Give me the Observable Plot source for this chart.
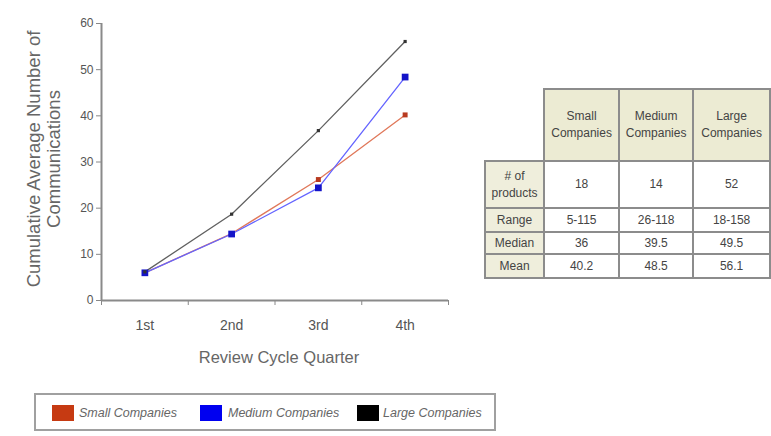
<!DOCTYPE html>
<html>
<head>
<meta charset="utf-8">
<script src="https://cdn.jsdelivr.net/npm/d3@7"></script>
<script src="https://cdn.jsdelivr.net/npm/@observablehq/plot@0.6"></script>
<style>
  html, body { margin: 0; padding: 0; background: #fff; }
  body { width: 771px; height: 436px; position: relative; overflow: hidden; font-family: "Liberation Sans", Arial, sans-serif; }
  #chart { position: absolute; left: 0; top: 0; }
  #tbl { position: absolute; left: 484px; top: 88px; border-collapse: collapse; font-size: 12px; color: #444; }
  #tbl td { border: 2px solid #8c8c8c; text-align: center; padding: 0; line-height: 1.4; }
  #tbl td.blank { border: none; border-right: 2px solid #8c8c8c; border-bottom: 2px solid #8c8c8c; background: #fff; }
  #tbl td.head { background: #ecebd3; }
  #tbl td.rowh { background: #efeedc; }
  #tbl td.val { background: #fff; }
  #legend { position: absolute; left: 34px; top: 393px; width: 462px; height: 38px; border: 2px solid #a0a0a0; box-sizing: border-box; }
  .sw { position: absolute; top: 10px; width: 22px; height: 16px; }
  .lt { position: absolute; top: 10px; font-style: italic; font-size: 12.5px; color: #666; line-height: 16px; white-space: nowrap; }
</style>
</head>
<body>
<div id="chart"></div>
<table id="tbl"></table>
<div id="legend"></div>
<script>
// ---- data ----
const quarters = ["1st", "2nd", "3rd", "4th"];
const seriesNames = ["Small Companies", "Medium Companies", "Large Companies"];
const smallValues = [6.0, 14.5, 26.2, 40.2];
const mediumValues = [6.0, 14.4, 24.4, 48.4];
const largeValues = [6.2, 18.7, 36.8, 56.1];
const yTicks = [0, 10, 20, 30, 40, 50, 60];

const tableColumns = ["Small\nCompanies", "Medium\nCompanies", "Large\nCompanies"];
const tableRowLabels = ["# of\nproducts", "Range", "Median", "Mean"];
const productsRow = ["18", "14", "52"];
const rangeRow = ["5-115", "26-118", "18-158"];
const medianRow = ["36", "39.5", "49.5"];
const meanRow = ["40.2", "48.5", "56.1"];

const colors = { line: ["#e0785a", "#6464ff", "#606060"], dot: ["#b83a20", "#1414c8", "#333"], swatch: ["#c63a12", "#0000f0", "#000"] };

const valuesBySeries = [smallValues, mediumValues, largeValues];
const rows = [];
valuesBySeries.forEach((vals, s) => vals.forEach((v, i) => rows.push({ series: seriesNames[s], s, q: i + 1, v })));

const bounds = [0.5, 1.5, 2.5, 3.5, 4.5];

const plot = Plot.plot({
  width: 771,
  height: 390,
  marginLeft: 101,
  marginRight: 323,
  marginTop: 23,
  marginBottom: 90,
  style: { fontFamily: "'Liberation Sans', Arial, sans-serif", background: "transparent" },
  x: { type: "linear", domain: [0.5, 4.5] },
  y: { domain: [0, 60] },
  marks: [
    Plot.axisY({ ticks: yTicks, tickSize: 5, tickPadding: 3, fontSize: 12, stroke: "#888", fill: "#555", label: null }),
    Plot.axisX({ ticks: bounds, tickSize: 5, tickFormat: () => "", stroke: "#888", label: null }),
    Plot.axisX({ ticks: [1, 2, 3, 4], tickSize: 0, tickPadding: 20, fontSize: 14, fill: "#555", tickFormat: d => quarters[d - 1], label: null }),
    Plot.ruleY([0], { stroke: "#8a8a8a", strokeWidth: 2 }),
    Plot.ruleX([0.5], { stroke: "#8a8a8a", strokeWidth: 2 }),
    Plot.text(["Review Cycle Quarter"], { frameAnchor: "bottom", dy: 57, dx: 4, fontSize: 16.5, fill: "#666", lineAnchor: "middle" }),
    Plot.text(["Cumulative Average Number of\nCommunications"], { frameAnchor: "left", textAnchor: "middle", rotate: -90, dx: -58, dy: -3, fontSize: 18.5, lineHeight: 1.1, fill: "#666", lineAnchor: "middle" }),
    ...[0, 1, 2].map(s => Plot.line(rows.filter(d => d.s === s), { x: "q", y: "v", stroke: colors.line[s], strokeWidth: 1.3 })),
    Plot.dot(rows.filter(d => d.s === 0), { x: "q", y: "v", symbol: "square", r: 2.8, fill: colors.dot[0] }),
    Plot.dot(rows.filter(d => d.s === 1), { x: "q", y: "v", symbol: "square", r: 3.8, fill: colors.dot[1] }),
    Plot.dot(rows.filter(d => d.s === 2), { x: "q", y: "v", symbol: "square", r: 1.8, fill: colors.dot[2] })
  ]
});
document.getElementById("chart").appendChild(plot);

// ---- table ----
const tbl = document.getElementById("tbl");
const colW = [59, 74, 73, 76];
const rowH = [72, 47, 24, 22, 24];
const br = s => s.replace(/\n/g, "<br>");
let html = `<tr style="height:${rowH[0]}px"><td class="blank" style="width:${colW[0]}px"></td>` +
  tableColumns.map((c, i) => `<td class="head" style="width:${colW[i + 1]}px">${br(c)}</td>`).join("") + "</tr>";
[productsRow, rangeRow, medianRow, meanRow].forEach((r, k) => {
  html += `<tr style="height:${rowH[k + 1]}px"><td class="rowh">${br(tableRowLabels[k])}</td>` +
    r.map(v => `<td class="val">${v}</td>`).join("") + "</tr>";
});
tbl.innerHTML = html;

// ---- legend ----
const legend = document.getElementById("legend");
const swX = [16, 164, 321];
const txX = [43, 192, 347];
seriesNames.forEach((n, i) => {
  legend.insertAdjacentHTML("beforeend",
    `<div class="sw" style="left:${swX[i]}px;background:${colors.swatch[i]};"></div>` +
    `<div class="lt" style="left:${txX[i]}px">${n}</div>`);
});
</script>
</body>
</html>
